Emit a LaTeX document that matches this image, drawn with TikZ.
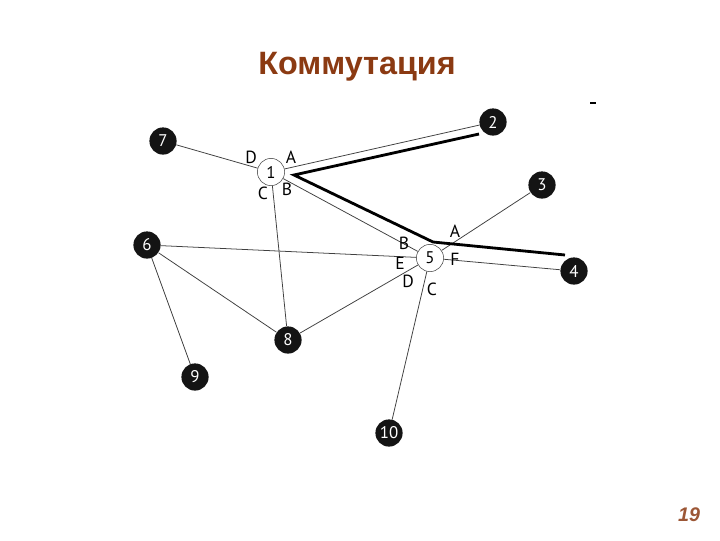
\documentclass[tikz,border=0pt]{standalone}
\usepackage{fontspec}
\setmainfont{Liberation Sans}
\newfontfamily\netfont{PT Sans}
\usepackage{xcolor}
\definecolor{title-brown}{RGB}{139,58,18}
\tikzset{
    black-node/.style = {circle, fill=black!92, text=white, inner sep=0pt, minimum size=0.68cm, font=\netfont\fontsize{12}{14}\selectfont},
    white-node/.style = {circle, draw=black!70, fill=white, inner sep=0pt, minimum size=0.68cm, font=\netfont\fontsize{12}{14}\selectfont},
    port-label/.style = {inner sep=0pt, font=\netfont\fontsize{12.5}{14}\selectfont},
    link/.style = {draw=black!75, line width=0.55pt},
    route/.style = {draw=black, line width=2pt},
}

\begin{document}
\begin{tikzpicture}[x=0.025cm, y=-0.025cm]
\useasboundingbox (0,0) rectangle (720,540);

% title and page number
\node[font=\bfseries\fontsize{23}{27}\selectfont, text=title-brown] (title) at (357,67) {Коммутация};
\node[font=\bfseries\itshape\fontsize{14}{16}\selectfont, text=title-brown!85] (page) at (689,515) {19};
\draw[line width=1pt] (590,103) -- (596,103);

% switches
\node[white-node] (n1) at (271,172) {1};
\node[white-node] (n5) at (430,258) {5};

% hosts
\node[black-node] (n2) at (493,122) {2};
\node[black-node] (n3) at (542,185) {3};
\node[black-node] (n4) at (574,271) {4};
\node[black-node] (n6) at (147,245) {6};
\node[black-node] (n7) at (163,141) {7};
\node[black-node] (n8) at (288,340) {8};
\node[black-node] (n9) at (195,377) {9};
\node[black-node] (n10) at (389,433) {10};

% links
\draw[link] (n7) -- (n1);
\draw[link] (n1) -- (n2);
\draw[link] (n1) -- (n5);
\draw[link] (n1) -- (n8);
\draw[link] (n6) -- (n5);
\draw[link] (n6) -- (n8);
\draw[link] (n6) -- (n9);
\draw[link] (n8) -- (n5);
\draw[link] (n5) -- (n3);
\draw[link] (n5) -- (n4);
\draw[link] (n5) -- (n10);

% ports of switch 1
\node[port-label] (p1d) at (251,157) {D};
\node[port-label] (p1a) at (291,157) {A};
\node[port-label] (p1c) at (263,193) {C};
\node[port-label] (p1b) at (287,189) {B};

% ports of switch 5
\node[port-label] (p5a) at (455,231) {A};
\node[port-label] (p5b) at (404,243) {B};
\node[port-label] (p5e) at (400,263) {E};
\node[port-label] (p5f) at (455,259) {F};
\node[port-label] (p5d) at (408,281) {D};
\node[port-label] (p5c) at (432,289) {C};

% switched route
\coordinate (r2) at (479,134);
\coordinate (r1) at (294,175);
\coordinate (r5) at (433,242);
\coordinate (r4) at (565,255);
\draw[route] (r2) -- (r1) -- (r5) -- (r4);
\end{tikzpicture}
\end{document}
